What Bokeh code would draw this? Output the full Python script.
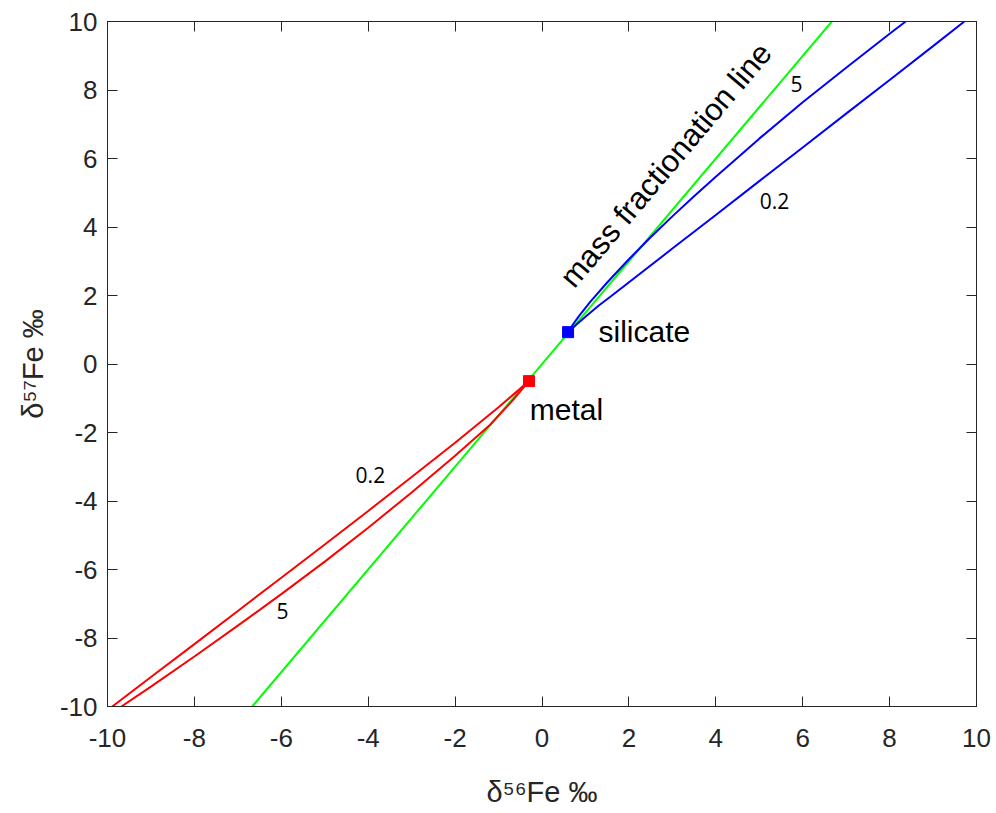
from bokeh.plotting import figure
from bokeh.models import Range1d, LinearAxis, FixedTicker, ColumnDataSource, CustomJSTickFormatter
from bokeh.core.properties import value
from bokeh.embed import file_html
from bokeh.resources import INLINE

# ---- data ----
tick_vals = [-10, -8, -6, -4, -2, 0, 2, 4, 6, 8, 10]

mfl_d56 = [-6.67, 6.67]
mfl_d57 = [-10.0, 10.0]

metal_d56 = [-0.3]
metal_d57 = [-0.5]
silicate_d56 = [0.6]
silicate_d57 = [0.93]

red_02_d56 = [-0.3, -1.0, -2.0, -3.0, -4.0, -5.0, -6.0, -7.0, -8.0, -9.0, -9.89]
red_02_d57 = [-0.5, -1.26, -2.3, -3.3, -4.29, -5.27, -6.24, -7.21, -8.18, -9.14, -10.0]

red_5_d56 = [-0.3, -0.7, -1.2, -2.0, -3.0, -4.0, -5.0, -6.0, -7.0, -8.0, -9.0, -9.68]
red_5_d57 = [-0.5, -1.1, -1.78, -2.68, -3.75, -4.78, -5.77, -6.72, -7.64, -8.54, -9.42, -10.0]

blue_5_d56 = [0.6, 0.7, 0.85, 1.1, 1.5, 2.0, 2.5, 3.0, 3.5, 4.0, 5.0, 6.0, 7.0, 8.0, 8.37]
blue_5_d57 = [0.93, 1.13, 1.4, 1.8, 2.38, 3.06, 3.7, 4.31, 4.9, 5.47, 6.58, 7.64, 8.65, 9.64, 10.0]

blue_02_d56 = [0.6, 0.8, 1.0, 1.3, 1.58, 3.0, 4.0, 5.0, 6.0, 7.0, 8.0, 9.0, 9.72]
blue_02_d57 = [0.93, 1.16, 1.38, 1.7, 1.97, 3.37, 4.35, 5.34, 6.32, 7.31, 8.29, 9.28, 10.0]

curve_labels = ["0.2", "5", "5", "0.2"]
curve_label_d56 = [-3.95, -5.97, 5.86, 5.35]
curve_label_d57 = [-3.24, -7.2, 8.18, 4.77]

# ---- figure ----
AX = "#262626"
FONT = "Liberation Sans"

p = figure(width=996, height=813, output_backend="svg", toolbar_location=None,
           x_range=Range1d(-10, 10), y_range=Range1d(-10, 10),
           x_axis_label="δ⁵⁶Fe ‰", y_axis_label="δ⁵⁷Fe ‰")
p.min_border_left = 107
p.min_border_right = 20
p.min_border_top = 21
p.min_border_bottom = 107
p.grid.visible = False
p.outline_line_color = AX
p.outline_line_width = 1
p.background_fill_color = "white"
p.border_fill_color = "white"

fmt = CustomJSTickFormatter(code="return tick.toFixed(0);")
for ax in (p.xaxis[0], p.yaxis[0]):
    ax.ticker = FixedTicker(ticks=tick_vals)
    ax.formatter = fmt
    ax.major_tick_in = 10
    ax.major_tick_out = 0
    ax.minor_tick_line_color = None
    ax.axis_line_color = AX
    ax.major_tick_line_color = AX
    ax.major_label_text_font = FONT
    ax.major_label_text_font_size = "26px"
    ax.major_label_text_color = AX
    ax.axis_label_text_font = FONT
    ax.axis_label_text_font_size = "29px"
    ax.axis_label_text_font_style = "normal"
    ax.axis_label_text_color = AX
p.xaxis[0].major_label_standoff = 22
p.yaxis[0].major_label_standoff = 10
p.xaxis[0].axis_label_standoff = 26
p.yaxis[0].axis_label_standoff = 8

for loc in ("above", "right"):
    ax = LinearAxis(ticker=FixedTicker(ticks=tick_vals),
                    formatter=CustomJSTickFormatter(code="return '';"))
    ax.major_tick_in = 10
    ax.major_tick_out = 0
    ax.minor_tick_line_color = None
    ax.axis_line_color = AX
    ax.major_tick_line_color = AX
    ax.major_label_standoff = 0
    p.add_layout(ax, loc)

# mass fractionation line
p.line(mfl_d56, mfl_d57, line_color="#00FF00", line_width=2)
# mixing curves
p.line(red_02_d56, red_02_d57, line_color="#FF0000", line_width=2)
p.line(red_5_d56, red_5_d57, line_color="#FF0000", line_width=2)
p.line(blue_02_d56, blue_02_d57, line_color="#0000FF", line_width=2)
p.line(blue_5_d56, blue_5_d57, line_color="#0000FF", line_width=2)

# end members
p.scatter(metal_d56, metal_d57, marker="square", size=11, fill_color="#FF0000", line_color="#FF0000")
p.scatter(silicate_d56, silicate_d57, marker="square", size=11, fill_color="#0000FF", line_color="#0000FF")

# curve labels
src = ColumnDataSource(dict(x=curve_label_d56, y=curve_label_d57, t=curve_labels))
p.text(x="x", y="y", text="t", source=src, text_font=value("Open Sans"),
       text_font_size="21px", text_align="center", text_baseline="middle", text_color="black")

p.text(x=[1.3], y=[0.94], text=["silicate"], text_font=value(FONT), text_font_size="30px",
       text_align="left", text_baseline="alphabetic", text_color="black")
p.text(x=[-0.28], y=[-1.33], text=["metal"], text_font=value(FONT), text_font_size="30px",
       text_align="left", text_baseline="alphabetic", text_color="black")
p.text(x=[0.56], y=[2.37], text=["mass fractionation line"], text_font=value(FONT),
       text_font_size="31px", text_align="left", text_baseline="alphabetic",
       angle=49.8, angle_units="deg", text_color="black")

open("out.html", "w").write(file_html(p, INLINE))
